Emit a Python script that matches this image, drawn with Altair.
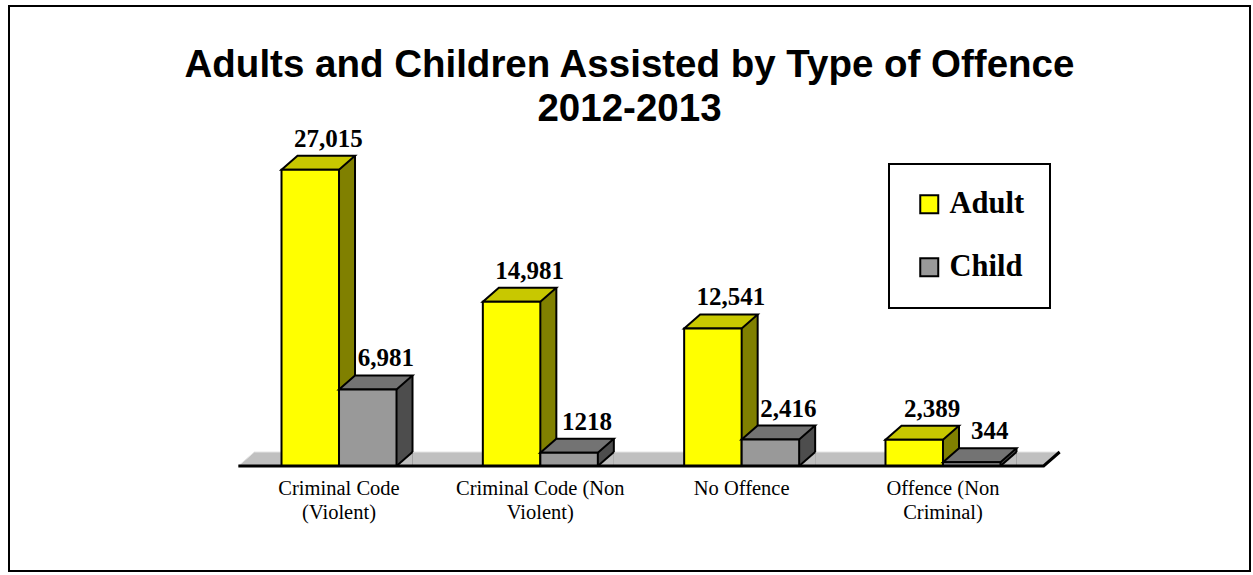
import altair as alt
import pandas as pd

# ---- data ----
categories = ["Criminal Code (Violent)", "Criminal Code (Non Violent)", "No Offence", "Offence (Non Criminal)"]
tick_labels = [["Criminal Code", "(Violent)"], ["Criminal Code (Non", "Violent)"], ["No Offence"], ["Offence (Non", "Criminal)"]]
series_names = ["Adult", "Child"]
adult_values = [27015, 14981, 12541, 2389]
child_values = [6981, 1218, 2416, 344]
adult_labels = ["27,015", "14,981", "12,541", "2,389"]
child_labels = ["6,981", "1218", "2,416", "344"]

rows = []
for s, vals, labs in [("Adult", adult_values, adult_labels), ("Child", child_values, child_labels)]:
    for c, v, l in zip(categories, vals, labs):
        rows.append({"category": c, "series": s, "value": v, "label": l})
df = pd.DataFrame(rows)

# ---- styles ----
W = 57.5   # bar front width
DX = 16    # depth x
DY = 14    # depth y
colors = {"Adult": ("#FFFF00", "#C8C800", "#808000"),
          "Child": ("#999999", "#737373", "#4D4D4D")}
FLOOR = "#C0C0C0"
X0, X1 = 229.35, 1034.65
YB, YT = 460, 131

def esc(t):
    return t.replace("'", "\\'")

expr = ""
for c, lines in zip(categories, tick_labels):
    arr = "[" + ",".join("'" + esc(l) + "'" for l in lines) + "]"
    expr += f"datum.value == '{esc(c)}' ? {arr} : "
expr += "datum.label"

x_scale = alt.Scale(domain=categories, range=[X0, X1], paddingInner=0, paddingOuter=0)
y_scale = alt.Scale(domain=[0, 30000], range=[YB, YT])
x_axis = alt.Axis(title=None, domain=False, ticks=False, grid=False, labelAngle=0,
                  labelFont="Liberation Serif", labelFontSize=20.5, labelColor="black",
                  labelLineHeight=24, labelPadding=0, labelLimit=400, labelOverlap=False,
                  offset=-93, labelExpr=expr)
x_enc = alt.X("category:N", scale=x_scale, axis=x_axis)
y_enc = alt.Y("value:Q", scale=y_scale, axis=None)
y0_enc = alt.Y("zero:Q", scale=y_scale, axis=None)
y20_enc = alt.Y2("zero:Q")

color_enc = alt.Color("series:N",
                      scale=alt.Scale(domain=series_names, range=[colors["Adult"][0], colors["Child"][0]]),
                      legend=alt.Legend(title=None, orient="none", legendX=880, legendY=158, padding=25,
                                        strokeColor="black", fillColor="white", symbolType="square",
                                        symbolSize=324, symbolStrokeColor="black", symbolStrokeWidth=2,
                                        labelFont="Liberation Serif", labelFontSize=30.5, labelFontWeight="bold",
                                        labelColor="black", labelOffset=5, rowPadding=32))

one = pd.DataFrame({"k": [0]})
half = (X1 - X0) / 2
floor_path = f"M {-half} 0 L {half} 0 L {half + DX} {-DY} L {-half + DX} {-DY} Z"
floor_edge = f"M {-half} 0 L {half} 0 L {half + DX} {-DY}"
floor_base = alt.Chart(one).transform_calculate(zero="0")
floor = floor_base.mark_point(shape=floor_path, size=4, filled=True, fill=FLOOR, stroke="#e4e4e4",
                              strokeWidth=1, opacity=1).encode(x=alt.value((X0 + X1) / 2), y=y0_enc)
floor_line = floor_base.mark_point(shape=floor_edge, size=4, filled=False, stroke="black",
                                   strokeWidth=3, opacity=1).encode(x=alt.value((X0 + X1) / 2), y=y0_enc)

def series_layers(s, j):
    front, top, side = colors[s]
    fx = (j - 0.5) * W
    x1 = fx + W / 2
    base = alt.Chart(df).transform_filter(alt.datum.series == s).transform_calculate(zero="0")
    side_rect = base.mark_bar(width=DX, xOffset=x1 + DX / 2, yOffset=-DY, fill=side, strokeWidth=0).encode(
        x=x_enc, y=y_enc, y2=y20_enc)
    cover = base.mark_point(shape=f"M 0 0 L {DX} 0 L {DX} {-DY} Z", size=4, filled=True, fill=FLOOR,
                            strokeWidth=0, opacity=1, xOffset=x1).encode(x=x_enc, y=y0_enc)
    right_edge = base.mark_rule(xOffset=x1 + DX, yOffset=-DY, y2Offset=-DY, color="black", strokeWidth=2).encode(
        x=x_enc, y=y_enc, y2=y20_enc)
    diag = base.mark_point(shape=f"M 0 0 L {DX} {-DY}", size=4, filled=False, stroke="black", strokeWidth=2,
                           opacity=1, xOffset=x1).encode(x=x_enc, y=y0_enc)
    top_face = base.mark_point(shape=f"M {-W/2} 0 L {W/2} 0 L {W/2 + DX} {-DY} L {-W/2 + DX} {-DY} Z",
                               size=4, filled=True, fill=top, stroke="black", strokeWidth=2, opacity=1,
                               xOffset=fx).encode(x=x_enc, y=y_enc)
    front_bar = base.mark_bar(width=W, xOffset=fx, stroke="black", strokeWidth=2).encode(
        x=x_enc, y=y_enc, color=color_enc)
    labels = base.mark_text(font="Liberation Serif", fontWeight="bold", fontSize=25, dx=fx + 18, dy=-23,
                            baseline="alphabetic", color="black").encode(x=x_enc, y=y_enc, text="label:N")
    return [side_rect, cover, right_edge, diag, top_face, front_bar, labels]

layers = [floor] + series_layers("Adult", 0) + series_layers("Child", 1) + [floor_line]

chart = alt.layer(*layers).properties(
    width=1241, height=565,
    autosize=alt.AutoSizeParams(type="none"),
    padding={"left": 9, "top": 6, "right": 3, "bottom": 4},
    title=alt.TitleParams(text=["Adults and Children Assisted by Type of Offence", "2012-2013"],
                          font="Liberation Sans", fontSize=38.5, fontWeight="bold", lineHeight=44,
                          anchor="middle", offset=0, dy=123, color="black"),
).configure(font="Liberation Serif", background="white").configure_view(
    stroke="black", strokeWidth=2
).configure_legend(strokeWidth=2)

chart.save("out.html", embed_options={"renderer": "svg", "actions": False})
